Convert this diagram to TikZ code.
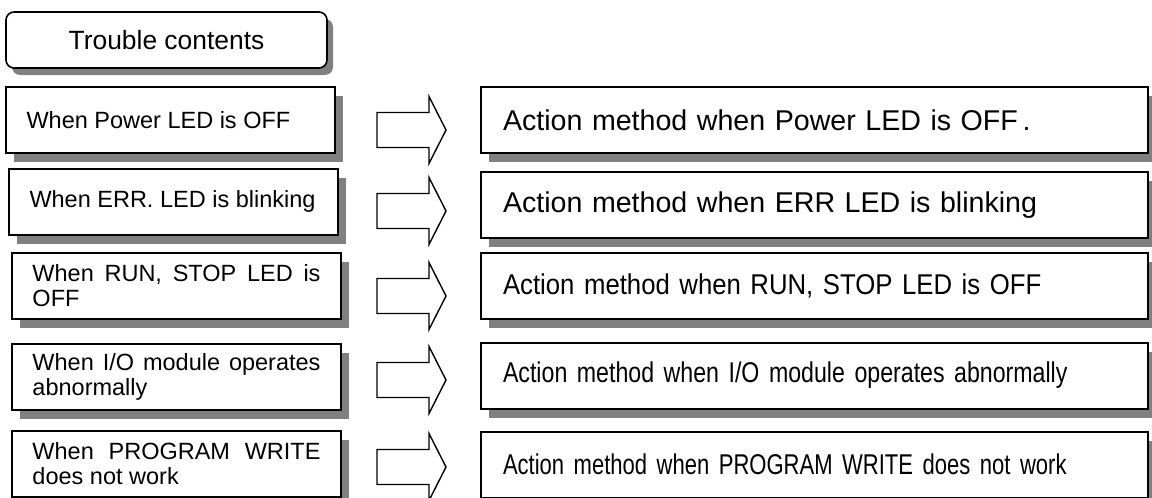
\documentclass[tikz,border=0pt]{standalone}
\usepackage{fontspec}
\setmainfont{Liberation Sans}
\newfontfamily\runfont[FakeStretch=0.9]{Liberation Sans}
\newfontfamily\iofont[FakeStretch=0.81]{Liberation Sans}
\newfontfamily\progfont[FakeStretch=0.77]{Liberation Sans}
\usetikzlibrary{shadows}
\definecolor{shadowgray}{RGB}{128,128,128}
\tikzset{
  box shadow/.style={
    drop shadow={shadow xshift=4pt, shadow yshift=-4.5pt, fill=shadowgray, opacity=1}
  },
  title box/.style={
    draw,
    line width=0.8pt,
    rounded corners=4pt,
    fill=white,
    minimum width=160.5pt,
    minimum height=28pt,
    font=\fontsize{13.2}{15}\selectfont,
    drop shadow={shadow xshift=3pt, shadow yshift=-3.5pt, fill=shadowgray, opacity=1}
  },
  trouble box/.style={
    draw,
    line width=1pt,
    fill=white,
    box shadow,
    minimum width=164.5pt,
    minimum height=33pt,
    text width=144pt,
    align=justify,
    inner sep=0pt,
    font=\fontsize{11.75}{12.5}\selectfont
  },
  action box/.style={
    draw,
    line width=1pt,
    fill=white,
    box shadow,
    minimum width=333.5pt,
    minimum height=33pt,
    text width=311.5pt,
    align=left,
    inner sep=0pt,
    font=\fontsize{14.3}{16}\selectfont
  },
  block arrow/.style={
    draw=black,
    fill=white,
    line width=0.7pt,
    line join=miter
  }
}

\begin{document}
\begin{tikzpicture}[x=0.5pt, y=-0.5pt]
    \useasboundingbox (0,0) rectangle (1152,498);

    % heading
    \node[title box] (Trouble) at (166.5, 40) {Trouble contents};

    % trouble contents (left column)
    \node[trouble box] (Cause1) at (170.5, 120) {When Power LED is OFF};
    \node[trouble box] (Cause2) at (173.5, 201.5) {When ERR. LED is blinking};
    \node[trouble box] (Cause3) at (176.5, 286) {When RUN, STOP LED is OFF};
    \node[trouble box] (Cause4) at (176.5, 376.5) {When I/O module operates abnormally};
    \node[trouble box] (Cause5) at (176.5, 463.5) {When PROGRAM WRITE does not work};

    % block arrows between the columns
    \foreach \y in {130, 211, 296, 380, 467}
      \draw[block arrow] (377,{\y-17.5}) -- (429,{\y-17.5}) -- (429,{\y-33.5}) -- (446,\y)
        -- (429,{\y+33.5}) -- (429,{\y+17.5}) -- (377,{\y+17.5}) -- cycle;

    % action methods (right column)
    \node[action box] (Action1) at (814.5, 120) {Action method when Power LED is OFF\,.};
    \node[action box] (Action2) at (814.5, 205) {Action method when ERR LED is blinking};
    \node[action box] (Action3) at (814.5, 286) {\runfont Action method when RUN, STOP LED is OFF};
    \node[action box] (Action4) at (814.5, 375.5) {\iofont Action method when I/O module operates abnormally};
    \node[action box] (Action5) at (814.5, 464.5) {\progfont Action method when PROGRAM WRITE does not work};

\end{tikzpicture}
\end{document}
